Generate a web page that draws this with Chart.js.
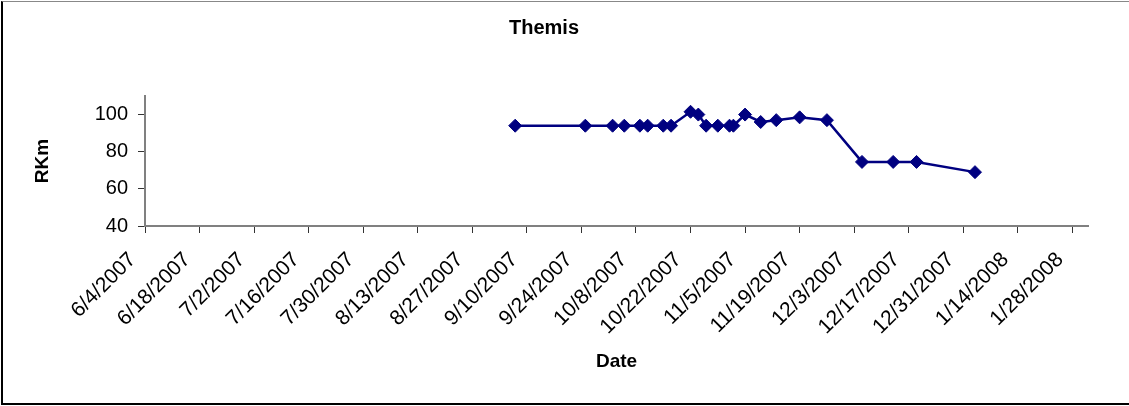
<!DOCTYPE html>
<html>
    <head>
        <meta charset="utf-8">
        <script src="https://cdn.jsdelivr.net/npm/chart.js@4/dist/chart.umd.min.js"></script>
        <style>
            body { margin: 0; background: #fff; }
            .wrap {
                position: relative;
                width: 1129px;
                height: 406px;
                overflow: hidden;
            }
            .frame {
                position: absolute;
                left: 1px;
                top: 1px;
                width: 1140px;
                height: 401px;
                border-left: 2px solid #000;
                border-top: 1px solid #888;
                border-bottom: 2px solid #000;
                pointer-events: none;
            }
        </style>
    </head>
    <body>
        <div class="wrap">
            <canvas id="wykres" width="1129" height="406"></canvas>
            <div class="frame"></div>
        </div>

        <script>
            // survey dates and river km readings
            const dates = ["9/7/2007", "9/25/2007", "10/2/2007", "10/5/2007", "10/9/2007", "10/11/2007",
                           "10/15/2007", "10/17/2007", "10/22/2007", "10/24/2007", "10/26/2007", "10/29/2007",
                           "11/1/2007", "11/2/2007", "11/5/2007", "11/9/2007", "11/13/2007", "11/19/2007",
                           "11/26/2007", "12/5/2007", "12/13/2007", "12/19/2007", "1/3/2008"];
            const rkm = [94, 94, 94, 94, 94, 94, 94, 94, 101.5, 100, 94, 94,
                         94, 94, 100, 96, 97, 98.5, 97, 74.5, 74.5, 74.5, 69];

            const startDate = "6/4/2007";   // first tick on the date axis
            const lastTick = "1/28/2008";
            const endDate = "2/1/2008";     // end of the axis line
            const tickDays = 14;
            const yTicks = [40, 60, 80, 100];
            const yMax = 110;

            const DAY = 86400000;
            function toUTC(s) {
                const p = s.split("/").map(Number);
                return Date.UTC(p[2], p[0] - 1, p[1]);
            }
            const t0 = toUTC(startDate);
            function dayOf(s) { return Math.round((toUTC(s) - t0) / DAY); }
            function labelOf(d) {
                const dt = new Date(t0 + d * DAY);
                // trailing spaces nudge the rotated label a bit left of its tick
                return (dt.getUTCMonth() + 1) + "/" + dt.getUTCDate() + "/" + dt.getUTCFullYear() + "   ";
            }

            const xTicks = [];
            for (let d = 0; d <= dayOf(lastTick); d += tickDays) xTicks.push(d);

            const punkty = dates.map((d, i) => ({ x: dayOf(d), y: rkm[i] }));
            const font = "'Liberation Sans', Arial, sans-serif";

            const ctx = document.getElementById("wykres").getContext("2d");
            let wykres = new Chart(ctx, {
                type: "scatter",
                data: {
                    datasets: [{
                        data: punkty,
                        showLine: true,
                        borderColor: "#000080",
                        backgroundColor: "#000080",
                        borderWidth: 2.5,
                        pointStyle: "rectRot",
                        pointRadius: 6.5,
                        pointBorderWidth: 1,
                        pointBorderColor: "#000080",
                        pointBackgroundColor: "#000080"
                    }]
                },
                options: {
                    responsive: false,
                    animation: false,
                    layout: { padding: { left: 0, right: 41, top: 0, bottom: 0 } },
                    plugins: {
                        legend: { display: false },
                        tooltip: { enabled: false },
                        title: {
                            display: true,
                            text: "Themis",
                            color: "#000",
                            font: { family: font, size: 20, weight: "bold", lineHeight: 1.2 },
                            padding: { top: 16, bottom: 56 }
                        }
                    },
                    scales: {
                        x: {
                            type: "linear",
                            min: 0,
                            max: dayOf(endDate),
                            afterBuildTicks: (s) => { s.ticks = xTicks.map(v => ({ value: v })); },
                            afterFit: (s) => { s.height = 180; },
                            ticks: {
                                stepSize: tickDays,
                                minRotation: 45,
                                maxRotation: 45,
                                autoSkip: false,
                                padding: 2,
                                color: "#000",
                                font: { family: font, size: 21 },
                                callback: (v) => labelOf(v)
                            },
                            grid: { drawOnChartArea: false, drawTicks: true, tickLength: 7, color: "#333" },
                            border: { color: "#808080", width: 2 },
                            title: {
                                display: true,
                                text: "Date",
                                color: "#000",
                                font: { family: font, size: 19, weight: "bold", lineHeight: 1.2 },
                                padding: { top: 0, bottom: 33 }
                            }
                        },
                        y: {
                            min: yTicks[0],
                            max: yMax,
                            afterBuildTicks: (s) => { s.ticks = yTicks.map(v => ({ value: v })); },
                            afterFit: (s) => { s.width = 145; },
                            ticks: {
                                stepSize: 20,
                                padding: 10,
                                color: "#000",
                                font: { family: font, size: 20 }
                            },
                            grid: { drawOnChartArea: false, drawTicks: true, tickLength: 7, color: "#333" },
                            border: { color: "#808080", width: 2 },
                            title: {
                                display: true,
                                text: "RKm",
                                color: "#000",
                                font: { family: font, size: 19, weight: "bold", lineHeight: 1.2 },
                                padding: { top: 31, bottom: 0 }
                            }
                        }
                    }
                }
            });
        </script>
    </body>
</html>
